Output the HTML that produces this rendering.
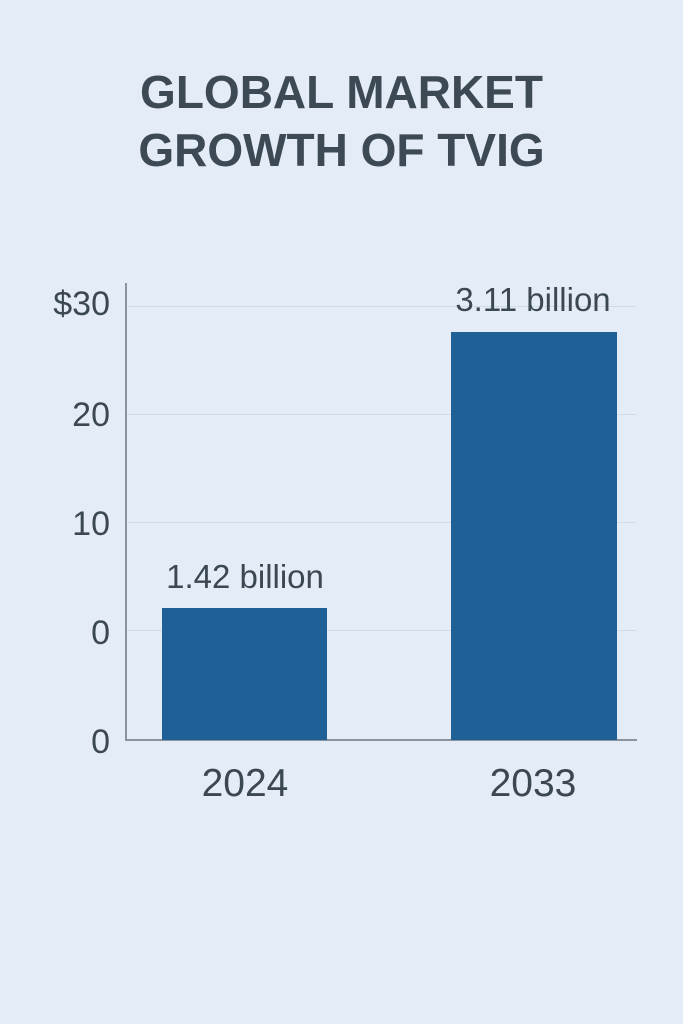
<!DOCTYPE html>
<html><head><meta charset="utf-8"><style>
html,body{margin:0;padding:0;}
body{width:683px;height:1024px;background:#e4edf7;position:relative;overflow:hidden;font-family:"Liberation Sans","DejaVu Sans",sans-serif;color:#3b4853;}
.t{position:absolute;left:0;width:683px;text-align:center;font-weight:bold;font-size:46px;letter-spacing:0px;color:#3d4954;line-height:56px;}
.a{position:absolute;}
.yl{position:absolute;font-size:34px;color:#3b4853;text-align:right;width:80px;left:30px;line-height:38px;}
.g{position:absolute;left:127px;width:509px;height:1px;background:#cfdbe7;}
.bar{position:absolute;background:#1f6096;}
.bl{position:absolute;font-size:33px;text-align:center;width:260px;line-height:36px;color:#3b4853;}
.xl{position:absolute;font-size:39px;text-align:center;width:200px;line-height:44px;color:#3b4853;}
</style></head><body>
<div class="t" style="top:64px;">GLOBAL MARKET</div>
<div class="t" style="top:122px;">GROWTH OF TVIG</div>
<div class="g" style="top:306px;"></div>
<div class="g" style="top:414px;"></div>
<div class="g" style="top:522px;"></div>
<div class="g" style="top:630px;"></div>
<div class="a" style="left:125px;top:283px;width:2px;height:458px;background:#8a949d;"></div>
<div class="a" style="left:125px;top:739px;width:512px;height:2px;background:#8a949d;"></div>
<div class="yl" style="top:285px;">$30</div>
<div class="yl" style="top:396px;">20</div>
<div class="yl" style="top:505px;">10</div>
<div class="yl" style="top:614px;">0</div>
<div class="yl" style="top:723px;">0</div>
<div class="bar" style="left:162px;top:608px;width:165px;height:132px;"></div>
<div class="bar" style="left:451px;top:332px;width:166px;height:408px;"></div>
<div class="bl" style="left:115px;top:559px;">1.42 billion</div>
<div class="bl" style="left:403px;top:282px;">3.11 billion</div>
<div class="xl" style="left:145px;top:762px;">2024</div>
<div class="xl" style="left:433px;top:762px;">2033</div>
</body></html>
